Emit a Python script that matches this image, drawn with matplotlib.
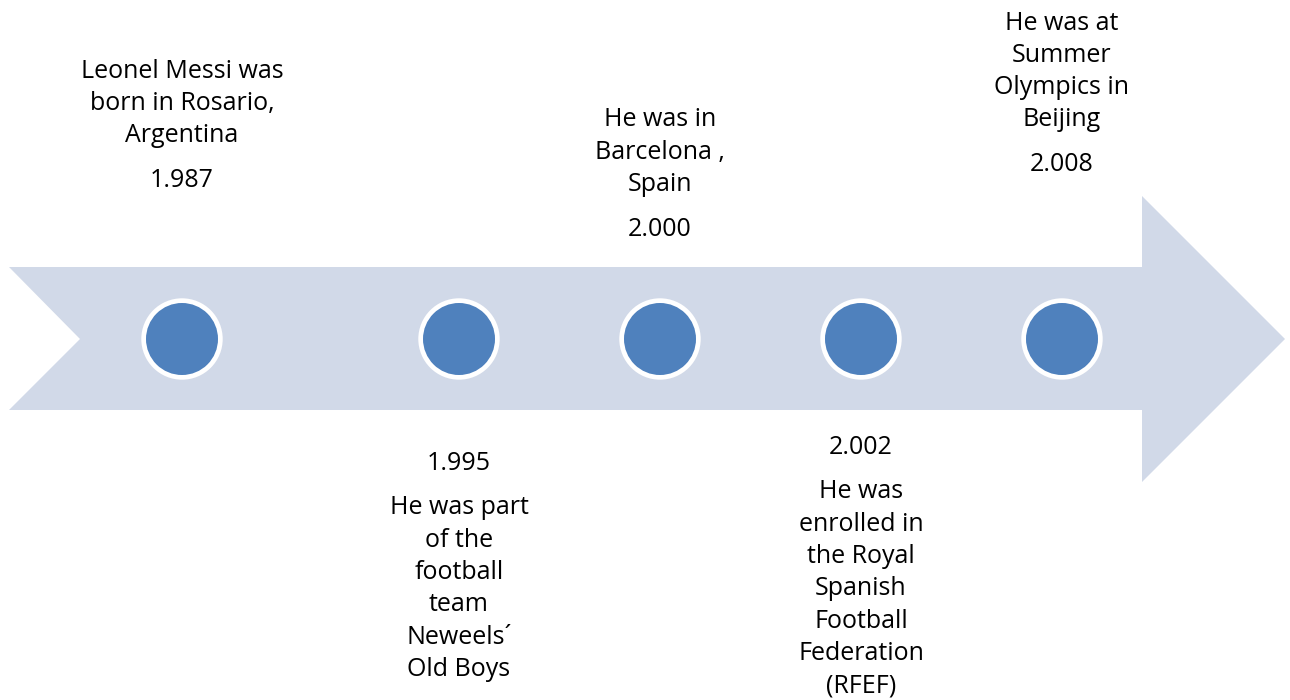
import matplotlib.pyplot as plt
from matplotlib.patches import Polygon, Circle

# timeline data
anos = ['1.987', '1.995', '2.000', '2.002', '2.008']
descricoes = [
    ['Leonel Messi was', 'born in Rosario,', 'Argentina'],
    ['He was part', 'of the', 'football', 'team', 'Neweels\u00b4', 'Old Boys'],
    ['He was in', 'Barcelona ,', 'Spain'],
    ['He was', 'enrolled in', 'the Royal', 'Spanish', 'Football', 'Federation', '(RFEF)'],
    ['He was at', 'Summer', 'Olympics in', 'Beijing'],
]
lado = ['acima', 'abaixo', 'acima', 'abaixo', 'acima']

# layout (pixels)
centros_x = [182, 459, 660, 861, 1062]
topo_texto = [71, 463, 120, 447, 23]
passo = 32.3
cor_seta = '#D1D9E8'
cor_circulo = '#4F81BD'

fig = plt.figure(figsize=(12.9, 7), dpi=100)
ax = fig.add_axes([0, 0, 1, 1])
ax.set_xlim(0, 1290)
ax.set_ylim(700, 0)
ax.axis('off')

seta = [(9, 267), (1142, 267), (1142, 196), (1285, 339), (1142, 482),
        (1142, 410), (9, 410), (80, 339)]
ax.add_patch(Polygon(seta, closed=True, facecolor=cor_seta, edgecolor='none'))

fonte = dict(fontsize=18, family=['Open Sans', 'DejaVu Sans'], color='black',
             ha='center', va='center')

for i, x in enumerate(centros_x):
    ax.add_patch(Circle((x, 339), 40.7, facecolor='white', edgecolor='none'))
    ax.add_patch(Circle((x, 339), 36, facecolor=cor_circulo, edgecolor='none'))

    y = topo_texto[i]
    if lado[i] == 'acima':
        for linha in descricoes[i]:
            ax.text(x, y, linha, **fonte)
            y += passo
        ax.text(x, y - passo + 45, anos[i], **fonte)
    else:
        ax.text(x, y, anos[i], **fonte)
        y += 45
        for linha in descricoes[i]:
            ax.text(x, y, linha, **fonte)
            y += passo

fig.savefig('out.png', dpi=100)
